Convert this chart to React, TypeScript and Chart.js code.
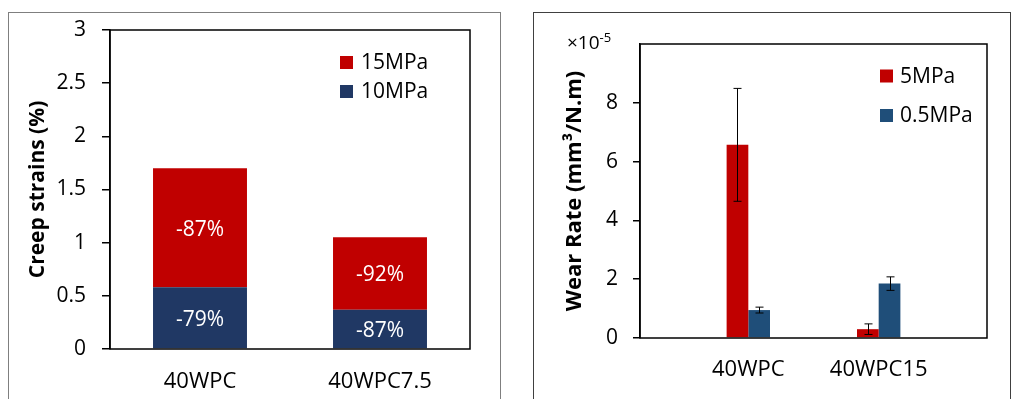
import React, { useEffect, useRef } from 'react';
import { Chart, registerables } from 'chart.js';

Chart.register(...registerables);

// ---------- data ----------
const creepCategories = ['40WPC', '40WPC7.5'];
const creep10 = [0.58, 0.37];
const creep15 = [1.12, 0.68];
const creep10Labels = ['-79%', '-87%'];
const creep15Labels = ['-87%', '-92%'];

const wearCategories = ['40WPC', '40WPC15'];
const wear5 = [6.57, 0.3];
const wear5Err = [1.92, 0.18];
const wear05 = [0.95, 1.85];
const wear05Err = [0.1, 0.23];

// ---------- styles ----------
const RED = '#C00000';
const NAVY = '#203864';
const STEEL = '#1F4E79';
const FONT = "'Open Sans', sans-serif";

Chart.defaults.font.family = FONT;
Chart.defaults.color = '#000';

const framePlugin = {
  id: 'frame',
  afterDraw(chart: any) {
    const { ctx, chartArea: a } = chart;
    ctx.save();
    ctx.strokeStyle = '#000';
    ctx.lineWidth = 1.5;
    ctx.strokeRect(a.left, a.top, a.right - a.left, a.bottom - a.top);
    ctx.restore();
  },
};

const boxLegend = {
  id: 'boxLegend',
  afterDraw(chart: any, _args: any, opts: any) {
    const { ctx } = chart;
    const ds = chart.data.datasets;
    const idx = ds.map((_: any, i: number) => i);
    if (opts.reverse) idx.reverse();
    ctx.save();
    ctx.font = `${opts.fontSize}px ${FONT}`;
    ctx.textBaseline = 'middle';
    ctx.textAlign = 'left';
    idx.forEach((di: number, k: number) => {
      const cy = opts.y + k * opts.gap;
      ctx.fillStyle = ds[di].backgroundColor;
      ctx.fillRect(opts.x, cy - opts.box / 2, opts.box, opts.box);
      ctx.fillStyle = '#000';
      ctx.fillText(ds[di].label, opts.x + opts.box + opts.textGap, cy + 1);
    });
    ctx.restore();
  },
};

const barLabels = {
  id: 'barLabels',
  afterDatasetsDraw(chart: any, _args: any, opts: any) {
    const { ctx } = chart;
    ctx.save();
    ctx.font = `${opts.fontSize}px ${FONT}`;
    ctx.fillStyle = '#fff';
    ctx.textAlign = 'center';
    ctx.textBaseline = 'middle';
    chart.data.datasets.forEach((ds: any, di: number) => {
      if (!ds.valueLabels) return;
      chart.getDatasetMeta(di).data.forEach((el: any, i: number) => {
        const p = el.getProps(['x', 'y', 'base'], true);
        ctx.fillText(ds.valueLabels[i], p.x, (p.y + p.base) / 2 + 2);
      });
    });
    ctx.restore();
  },
};

const errorBars = {
  id: 'errorBars',
  afterDatasetsDraw(chart: any) {
    const { ctx } = chart;
    const yScale = chart.scales.y;
    ctx.save();
    ctx.strokeStyle = '#000';
    ctx.lineWidth = 1;
    chart.data.datasets.forEach((ds: any, di: number) => {
      if (!ds.errors) return;
      chart.getDatasetMeta(di).data.forEach((el: any, i: number) => {
        const v = ds.data[i].y;
        const e = ds.errors[i];
        const x = Math.round(el.x) + 0.5;
        const yt = yScale.getPixelForValue(v + e);
        const yb = yScale.getPixelForValue(v - e);
        const w = 4;
        ctx.beginPath();
        ctx.moveTo(x, yt);
        ctx.lineTo(x, yb);
        ctx.moveTo(x - w, yt);
        ctx.lineTo(x + w, yt);
        ctx.moveTo(x - w, yb);
        ctx.lineTo(x + w, yb);
        ctx.stroke();
      });
    });
    ctx.restore();
  },
};

const exponentLabel = {
  id: 'exponentLabel',
  afterDraw(chart: any, _args: any, opts: any) {
    const { ctx } = chart;
    ctx.save();
    ctx.fillStyle = '#000';
    ctx.textAlign = 'left';
    ctx.textBaseline = 'alphabetic';
    ctx.font = `${opts.fontSize}px ${FONT}`;
    ctx.fillText(opts.base, opts.x, opts.y);
    const w = ctx.measureText(opts.base).width;
    ctx.font = `${opts.supSize}px ${FONT}`;
    ctx.fillText(opts.sup, opts.x + w, opts.y - 7);
    ctx.restore();
  },
};

function creepConfig(): any {
  return {
    type: 'bar',
    data: {
      labels: creepCategories,
      datasets: [
        {
          label: '10MPa',
          data: creep10,
          backgroundColor: NAVY,
          valueLabels: creep10Labels,
        },
        {
          label: '15MPa',
          data: creep15,
          backgroundColor: RED,
          valueLabels: creep15Labels,
        },
      ],
    },
    options: {
      responsive: false,
      animation: false,
      layout: { padding: { left: 25, right: 40, top: 30, bottom: 0 } },
      datasets: { bar: { categoryPercentage: 0.522, barPercentage: 1, borderWidth: 0 } },
      plugins: {
        legend: { display: false },
        tooltip: { enabled: false },
        boxLegend: { x: 340, y: 62.5, gap: 29, box: 13, textGap: 8, fontSize: 21, reverse: true },
        barLabels: { fontSize: 21 },
      },
      scales: {
        x: {
          stacked: true,
          grid: { display: false, drawTicks: false },
          border: { display: false },
          ticks: { padding: 20, font: { size: 22 }, color: '#000' },
          afterFit: (s: any) => { s.height = 50; },
        },
        y: {
          stacked: true,
          min: 0,
          max: 3,
          ticks: {
            stepSize: 0.5,
            padding: 16,
            font: { size: 21 },
            color: '#000',
            callback: (v: any) => String(+v),
          },
          grid: { drawOnChartArea: false, drawTicks: true, tickLength: 8, color: '#000', lineWidth: 1.5 },
          border: { display: true, color: '#000', width: 1.5 },
          title: {
            display: true,
            text: 'Creep strains (%)',
            font: { size: 21, weight: 'bold' },
            color: '#000',
            padding: { top: 0, bottom: 0 },
          },
          afterFit: (s: any) => { s.width = 85; },
        },
      },
    },
    plugins: [framePlugin, boxLegend, barLabels],
  };
}

function wearConfig(): any {
  return {
    type: 'bar',
    data: {
      datasets: [
        {
          label: '5MPa',
          data: wear5.map((y, i) => ({ x: i, y })),
          errors: wear5Err,
          backgroundColor: RED,
        },
        {
          label: '0.5MPa',
          data: wear05.map((y, i) => ({ x: i, y })),
          errors: wear05Err,
          backgroundColor: STEEL,
        },
      ],
    },
    options: {
      responsive: false,
      animation: false,
      layout: { padding: { left: 42, right: 25, top: 44, bottom: 0 } },
      datasets: { bar: { categoryPercentage: 0.333, barPercentage: 1, borderWidth: 0 } },
      plugins: {
        legend: { display: false },
        tooltip: { enabled: false },
        boxLegend: { x: 360, y: 76, gap: 39.5, box: 13, textGap: 7, fontSize: 21, reverse: false },
        exponentLabel: { x: 47, y: 49, base: '×10', sup: '-5', fontSize: 19, supSize: 13 },
      },
      scales: {
        x: {
          type: 'linear',
          min: -0.831,
          max: 1.831,
          offset: false,
          grid: { display: false, drawTicks: false, offset: false },
          border: { display: false },
          afterBuildTicks: (s: any) => {
            s.ticks = wearCategories.map((_, i) => ({ value: i }));
          },
          ticks: {
            padding: 19,
            font: { size: 22 },
            color: '#000',
            callback: (v: any) => wearCategories[v] ?? '',
          },
          afterFit: (s: any) => { s.height = 61; },
        },
        y: {
          min: 0,
          max: 10,
          ticks: {
            stepSize: 2,
            padding: 15,
            font: { size: 21 },
            color: '#000',
            callback: (v: any) => (+v === 10 ? '' : String(+v)),
          },
          grid: {
            drawOnChartArea: false,
            drawTicks: true,
            tickLength: 7,
            lineWidth: 1.5,
            color: (c: any) => (c.tick && c.tick.value === 10 ? 'rgba(0,0,0,0)' : '#000'),
          },
          border: { display: true, color: '#000', width: 1.5 },
          title: {
            display: true,
            text: 'Wear Rate (mm³/N.m)',
            font: { size: 22, weight: 'bold' },
            color: '#000',
            padding: { top: 0, bottom: 0 },
          },
          afterFit: (s: any) => { s.width = 78; },
        },
      },
    },
    plugins: [framePlugin, boxLegend, errorBars, exponentLabel],
  };
}

export default function App() {
  const leftRef = useRef<HTMLCanvasElement>(null);
  const rightRef = useRef<HTMLCanvasElement>(null);

  useEffect(() => {
    const c1 = new Chart(leftRef.current as HTMLCanvasElement, creepConfig());
    const c2 = new Chart(rightRef.current as HTMLCanvasElement, wearConfig());
    return () => {
      c1.destroy();
      c2.destroy();
    };
  }, []);

  return (
    <div
      style={{
        position: 'fixed',
        left: 0,
        top: 0,
        width: 1012,
        height: 399,
        overflow: 'hidden',
        background: '#fff',
      }}
    >
      <div
        style={{
          position: 'absolute',
          left: 8,
          top: 12,
          width: 493,
          height: 400,
          border: '1px solid #7f7f7f',
          boxSizing: 'border-box',
        }}
      />
      <div
        style={{
          position: 'absolute',
          left: 533,
          top: 12,
          width: 478,
          height: 400,
          border: '1px solid #404040',
          boxSizing: 'border-box',
        }}
      />
      <canvas
        ref={leftRef}
        width={510}
        height={399}
        style={{ position: 'absolute', left: 0, top: 0, width: 510, height: 399 }}
      />
      <canvas
        ref={rightRef}
        width={492}
        height={399}
        style={{ position: 'absolute', left: 520, top: 0, width: 492, height: 399 }}
      />
    </div>
  );
}
